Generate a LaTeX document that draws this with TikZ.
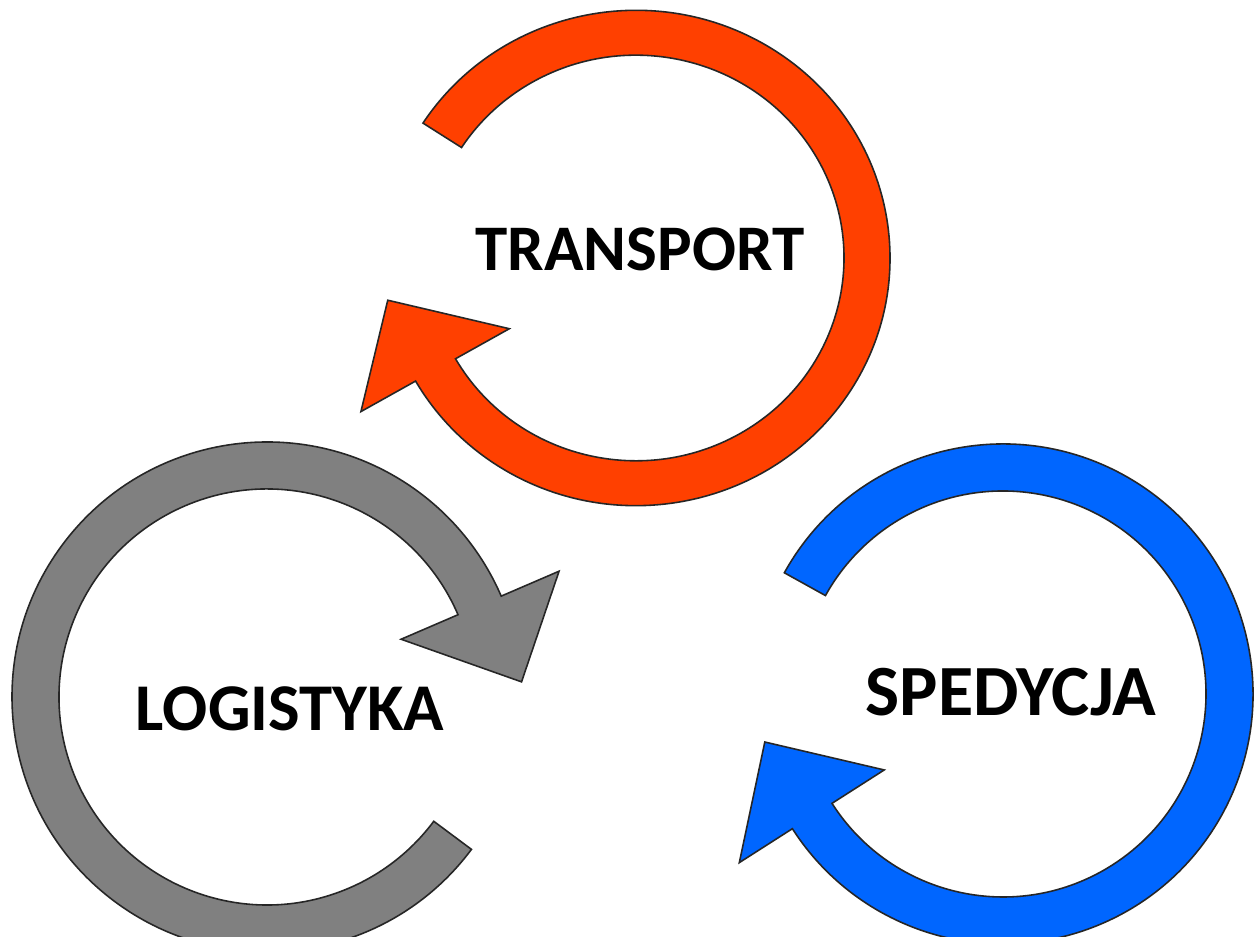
\documentclass[tikz,border=0pt]{standalone}
\usepackage{fontspec}
\setmainfont{Carlito}
\usetikzlibrary{positioning}

\definecolor{transportred}{RGB}{255,64,0}
\definecolor{logisticsgray}{RGB}{128,128,128}
\definecolor{forwardblue}{RGB}{0,102,255}

% #1 centre, #2 colour, #3 outer radius, #4 inner radius,
% #5 tail angle, #6 head angle, #7 tip angle, #8 tip radius, #9 yscale
\newcommand{\cyclearrow}[9]{%
  \begin{scope}[shift={(#1)}, yscale=#9]
    \draw[ring, fill=#2] ({#5}:{#3}) arc[start angle=#5, end angle=#6, radius=#3]
      -- ({#6}:{#3+63}) -- ({#7}:{#8}) -- ({#6}:{#4-62}) -- ({#6}:{#4})
      arc[start angle=#6, end angle=#5, radius=#4] -- cycle;
  \end{scope}}

\begin{document}
\begin{tikzpicture}[x=0.01cm, y=0.01cm]
  \tikzstyle{ring}=[draw=black!85, line width=0.45pt, line join=miter]
  \tikzstyle{word}=[font=\bfseries\fontsize{18.5}{22}\selectfont, text=black, inner sep=0pt]

  \fill[white] (0,0) rectangle (1257,937);
  \useasboundingbox (0,0) rectangle (1257,937);

  \coordinate (transport c) at (636,679);
  \coordinate (logistics c) at (267,240);
  \coordinate (forward c)   at (1003,243);

  \cyclearrow{transport c}{transportred}{254}{208}{147}{-150.2}{-170.1}{252}{0.975}
  \cyclearrow{logistics c}{logisticsgray}{255}{208}{-36.7}{-336.7}{-356.6}{255}{1}
  \cyclearrow{forward c}{forwardblue}{250}{203}{151}{-147.4}{-168.6}{243}{1}

  \node[word] (transport) at (640,688) {TRANSPORT};
  \node[word, font=\bfseries\fontsize{19}{22}\selectfont] (logistics) at (290,228) {LOGISTYKA};
  \node[word, font=\bfseries\fontsize{20.5}{24}\selectfont] (forward) at (1011,245) {SPEDYCJA};
\end{tikzpicture}
\end{document}
